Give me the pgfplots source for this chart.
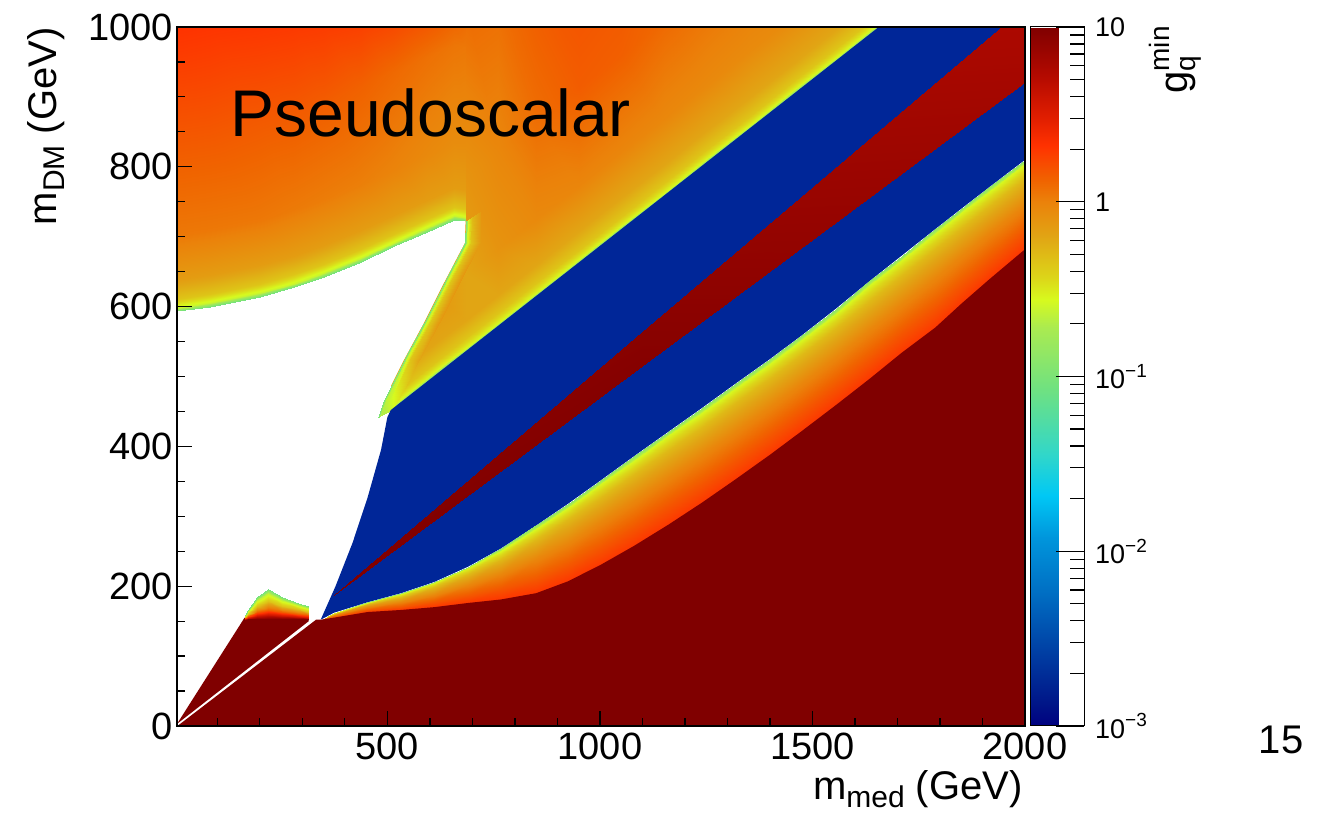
\documentclass[border=0pt]{standalone}
\usepackage{fontspec}
\setmainfont{Liberation Sans}
\usepackage{pgfplots}
\pgfplotsset{compat=1.18}

\definecolor{rootdark}{RGB}{128,0,0}
\definecolor{rootblue}{RGB}{0,38,152}

\newcommand{\ticksize}{\fontsize{19}{22}\selectfont}
\newcommand{\labelsize}{\fontsize{20}{24}\selectfont}
\newcommand{\sub}[1]{\raisebox{-4pt}{\fontsize{15}{15}\selectfont #1}}
\newcommand{\cbsup}[1]{\raisebox{0.42em}{\fontsize{9.5}{10}\selectfont #1}}

\begin{document}
\begin{tikzpicture}
\begin{axis}[
  at={(0pt,0pt)}, anchor=south west,
  scale only axis, width=424pt, height=349.5pt,
  xmin=5, xmax=2000, ymin=0, ymax=1000,
  axis on top,
  tick pos=left, tick align=inside,
  major tick length=7.5pt, minor tick length=4pt,
  every tick/.style={black, line width=0.6pt},
  axis line style={line width=0.7pt},
  xtick={500,1000,1500,2000}, xticklabels={500,1000,1500,2000},
  minor xtick={100,200,...,1900},
  ytick={0,200,400,600,800,1000}, yticklabels={0,200,400,600,800,1000},
  minor ytick={50,100,...,950},
  ticklabel style={font=\ticksize},
  yticklabel style={xshift=1.5pt},
  colormap={rootpal}{
    rgb255(0pt)=(0,0,128);
    rgb255(12pt)=(0,20,135);
    rgb255(44pt)=(0,65,165);
    rgb255(76pt)=(0,110,195);
    rgb255(108pt)=(0,150,220);
    rgb255(132pt)=(0,200,245);
    rgb255(156pt)=(50,215,200);
    rgb255(192pt)=(110,225,130);
    rgb255(228pt)=(170,235,80);
    rgb255(244pt)=(215,250,30);
    rgb255(256pt)=(220,215,25);
    rgb255(280pt)=(225,165,20);
    rgb255(300pt)=(235,130,10);
    rgb255(312pt)=(240,100,0);
    rgb255(332pt)=(255,50,0);
    rgb255(348pt)=(225,30,0);
    rgb255(372pt)=(180,10,0);
    rgb255(400pt)=(128,0,0)
  },
  point meta min=-3, point meta max=1,
  colorbar,
  colorbar style={
    at={(parent axis.north east)}, anchor=north west, xshift=-6pt,
    width=27pt,
    ytick={-3,-2,-1,0,1},
    yticklabels={10\cbsup{−3},10\cbsup{−2},10\cbsup{−1},1,10},
    minor ytick={-2.699,-2.523,-2.398,-2.301,-2.222,-2.155,-2.097,-2.046,
                 -1.699,-1.523,-1.398,-1.301,-1.222,-1.155,-1.097,-1.046,
                 -0.699,-0.523,-0.398,-0.301,-0.222,-0.155,-0.097,-0.046,
                 0.301,0.477,0.602,0.699,0.778,0.845,0.903,0.954},
    ytick pos=right, yticklabel pos=right,
    tick align=inside,
    major tick length=14pt, minor tick length=7pt,
    every tick/.style={black, line width=0.6pt},
    axis line style={line width=0.5pt},
    yticklabel style={font=\fontsize{13.5}{16}\selectfont, anchor=west, xshift=2pt},
  },
]

% field above the upper yellow line (log10 of the coupling)
\addplot[surf, shader=interp, mesh/cols=14, point meta=explicit]
  table[x=x, y=y, meta=c] {
x y c
508 452 -0.95
560 476.8 -0.95
620 505.4 -0.95
685 536.4 -0.95
760 572.2 -0.95
850 615.1 -0.95
950 662.8 -0.95
1050 710.5 -0.95
1150 758.2 -0.95
1250 805.9 -0.95
1350 853.6 -0.95
1450 901.3 -0.95
1550 949 -0.95
1656 1000 -0.95
508 457 -0.55
560 481.8 -0.55
620 510.4 -0.55
685 541.4 -0.55
760 577.2 -0.55
850 620.1 -0.55
950 667.8 -0.55
1050 715.5 -0.55
1150 763.2 -0.55
1250 810.9 -0.55
1350 858.6 -0.55
1450 906.3 -0.55
1550 954 -0.55
1656 1005 -0.55
508 470 -0.35
560 494.8 -0.35
620 523.4 -0.35
685 554.4 -0.35
760 590.2 -0.35
850 633.1 -0.35
950 680.8 -0.35
1050 728.5 -0.35
1150 776.2 -0.35
1250 823.9 -0.35
1350 871.6 -0.35
1450 919.3 -0.35
1550 967 -0.35
1656 1018 -0.35
508 497 -0.2
560 521.8 -0.2
620 550.4 -0.2
685 581.4 -0.2
760 617.2 -0.2
850 660.1 -0.2
950 707.8 -0.2
1050 755.5 -0.2
1150 803.2 -0.2
1250 850.9 -0.2
1350 898.6 -0.2
1450 946.3 -0.2
1550 994 -0.2
1656 1045 -0.2
508 562 -0.1
560 586.8 -0.1
620 615.4 -0.12
685 646.4 -0.2
760 682.2 -0.1
850 725.1 -0.04
950 772.8 -0.02
1050 820.5 -0.02
1150 868.2 -0.03
1250 915.9 -0.04
1350 963.6 -0.05
1450 1011.3 -0.05
1550 1059 -0.05
1656 1110 -0.05
508 702 -0.08
560 726.8 -0.08
620 755.4 -0.08
685 786.4 -0.1
760 822.2 -0.03
850 865.1 0.08
950 912.8 0.15
1050 960.5 0.14
1150 1008.2 0.1
1250 1055.9 0.08
1350 1103.6 0.06
1450 1151.3 0.05
1550 1199 0.05
1656 1250 0.05
508 952 0.08
560 976.8 0.08
620 1005.4 0.09
685 1036.4 0.1
760 1072.2 0.1
850 1115.1 0.18
950 1162.8 0.22
1050 1210.5 0.22
1150 1258.2 0.2
1250 1305.9 0.18
1350 1353.6 0.16
1450 1401.3 0.15
1550 1449 0.15
1656 1500 0.15
};

% region with no solution (upper left)
\addplot[draw=none, fill=white] coordinates {
  (5,593) (83,600) (201,614) (280,628) (350,643) (437,664) (515,686)
  (594,707) (657,724) (684,722)
  (682,691) (633,634) (586,577) (539,524) (491,466) (477,441)
  (470,420) (5,420)} -- cycle;

% edge along the right side of the empty region
\addplot[surf, shader=interp, mesh/cols=7, point meta=explicit]
  table[x=x, y=y, meta=c] {
x y c
477 441 -1.0
491 466 -1.0
539 524 -1.0
586 577 -1.0
633 634 -1.0
682 691 -1.0
684 722 -1.0
482 442.8 -0.7
496 466 -0.65
544 524 -0.6
591 577 -0.6
638 634 -0.6
687 691 -0.6
689 724 -0.55
492 446.3 -0.7
506 466 -0.6
554 524 -0.35
601 577 -0.35
648 634 -0.35
697 691 -0.35
699 728 -0.3
508 452 -0.6
526 466 -0.5
574 524 -0.2
621 577 -0.13
668 634 -0.12
717 691 -0.15
719 735 -0.15
};

% upper left field above the empty region
\addplot[surf, shader=interp, mesh/cols=10, point meta=explicit]
  table[x=x, y=y, meta=c] {
x y c
5 593 -1.05
83 600 -1.05
201 614 -1.05
280 628 -1.05
350 643 -1.05
437 664 -1.05
515 686 -1.05
594 707 -1.05
657 724 -1.05
684 722 -1.05
5 598 -0.62
83 605 -0.62
201 619 -0.62
280 633 -0.62
350 648 -0.62
437 669 -0.62
515 691 -0.62
594 712 -0.62
657 729 -0.62
684 727 -0.62
5 611 -0.35
83 618 -0.35
201 632 -0.35
280 646 -0.35
350 661 -0.35
437 682 -0.35
515 704 -0.35
594 725 -0.35
657 742 -0.35
684 740 -0.35
5 638 -0.15
83 645 -0.15
201 659 -0.15
280 673 -0.15
350 688 -0.15
437 709 -0.15
515 731 -0.15
594 752 -0.15
657 769 -0.15
684 767 -0.15
5 703 0.04
83 710 0.04
201 724 0.04
280 738 0.03
350 753 0.02
437 774 0.01
515 796 -0.01
594 817 -0.04
657 834 -0.06
684 832 -0.06
5 843 0.17
83 850 0.17
201 864 0.16
280 878 0.16
350 893 0.15
437 914 0.13
515 936 0.1
594 957 0.07
657 974 0.05
684 972 0.04
5 1000 0.32
83 1000 0.31
201 1000 0.3
280 1000 0.29
350 1000 0.28
437 1000 0.26
515 1000 0.22
594 1000 0.16
657 1000 0.1
684 1000 0.08
};

% blue band
\addplot[draw=none, fill=rootblue] coordinates {
  (508,452) (1656,1000) (2000,1000) (2000,810) (1916,771) (1850,740)
  (1789,711) (1710,673) (1633,636) (1555,597) (1475,559) (1400,525)
  (1317,489) (1240,455) (1161,421) (1080,386) (1003,352) (925,318)
  (850,287) (767,254) (690,228) (610,206) (532,190) (453,177)
  (374,162) (343,152) (378,200) (418,262) (453,326) (485,395)
  (500,442)} -- cycle;

% narrow resonance band
\addplot[surf, shader=interp, mesh/cols=3, point meta=explicit]
  table[x=x, y=y, meta=c] {
x y c
374 187 1.0
1100 515.2 0.97
2000 922 0.8
374 187 1.0
1100 563 0.95
2000 1029 0.75
};

% lower gradient band
\addplot[surf, shader=interp, mesh/cols=23, point meta=explicit]
  table[x=x, y=y, meta=c] {
x y c
343 152 -0.9
374 162 -0.9
453 177 -0.9
532 190 -0.9
610 206 -0.9
690 228 -0.9
767 254 -0.9
850 287 -0.9
925 318 -0.9
1003 352 -0.9
1080 386 -0.9
1161 421 -0.9
1240 455 -0.9
1317 489 -0.9
1400 525 -0.9
1475 559 -0.9
1555 597 -0.9
1633 636 -0.9
1710 673 -0.9
1789 711 -0.9
1850 740 -0.9
1916 771 -0.9
2000 810 -0.9
343 152 -0.55
374 161.65 -0.55
453 176.3 -0.55
532 188.8 -0.55
610 204.2 -0.55
690 225.4 -0.55
767 250.35 -0.55
850 282.15 -0.55
925 312.45 -0.55
1003 345.95 -0.55
1080 379.6 -0.55
1161 414.35 -0.55
1240 448.2 -0.55
1317 482.15 -0.55
1400 518.15 -0.55
1475 552.15 -0.55
1555 590.1 -0.55
1633 629 -0.55
1710 666.05 -0.55
1789 703.95 -0.55
1850 733.2 -0.55
1916 764.4 -0.55
2000 803.6 -0.55
343 152 -0.3
374 160.6 -0.3
453 174.2 -0.3
532 185.2 -0.3
610 198.8 -0.3
690 217.6 -0.3
767 239.4 -0.3
850 267.6 -0.3
925 295.8 -0.3
1003 327.8 -0.3
1080 360.3 -0.3
1161 394.4 -0.3
1240 427.9 -0.3
1317 461.6 -0.3
1400 497.6 -0.3
1475 531.6 -0.3
1555 569.4 -0.3
1633 608 -0.3
1710 645.2 -0.3
1789 682.8 -0.3
1850 712.8 -0.3
1916 744.6 -0.3
2000 784.4 -0.3
343 152 -0.02
374 158.5 -0.02
453 170 -0.02
532 178 -0.02
610 188 -0.02
690 202 -0.02
767 217.5 -0.02
850 238.5 -0.02
925 262.5 -0.02
1003 291.5 -0.02
1080 321.8 -0.02
1161 354.5 -0.02
1240 387.25 -0.02
1317 420.5 -0.02
1400 456.5 -0.02
1475 490.5 -0.02
1555 528 -0.02
1633 566 -0.02
1710 603.5 -0.02
1789 640.5 -0.02
1850 672 -0.02
1916 705 -0.02
2000 746 -0.02
343 152 0.18
374 156.4 0.18
453 165.8 0.18
532 170.8 0.18
610 177.2 0.18
690 186.4 0.18
767 195.6 0.18
850 209.4 0.18
925 229.2 0.18
1003 255.2 0.18
1080 283.3 0.18
1161 314.6 0.18
1240 346.6 0.18
1317 379.4 0.18
1400 415.4 0.18
1475 449.4 0.18
1555 486.6 0.18
1633 524 0.18
1710 561.8 0.18
1789 598.2 0.18
1850 631.2 0.18
1916 665.4 0.18
2000 707.6 0.18
343 152 0.3
374 155 0.3
453 163 0.3
532 166 0.3
610 170 0.3
690 176 0.3
767 181 0.3
850 190 0.3
925 207 0.3
1003 231 0.3
1080 257.6 0.3
1161 288 0.3
1240 319.5 0.3
1317 352 0.3
1400 388 0.3
1475 422 0.3
1555 459 0.3
1633 496 0.3
1710 534 0.3
1789 570 0.3
1850 604 0.3
1916 639 0.3
2000 682 0.3
};

% saturated region (lower right)
\addplot[draw=none, fill=rootdark] coordinates {
  (6,0) (2000,0) (2000,682) (1916,639) (1850,604) (1789,570) (1710,534)
  (1633,496) (1555,459) (1475,422) (1400,388) (1317,352) (1240,319.5)
  (1161,288) (1080,257.6) (1003,231) (925,207) (850,190) (767,181)
  (690,176) (610,170) (532,166) (453,163) (374,155) (343,152)
  (332,152)} -- cycle;

% small wedge at low masses
\addplot[draw=none, fill=rootdark] coordinates {
  (5,3) (164,155) (314,155) (315,150)} -- cycle;

\addplot[surf, shader=interp, mesh/cols=7, point meta=explicit]
  table[x=x, y=y, meta=c] {
x y c
166 153 1.0
173 153 1.0
193 153 1.0
218 153 1.0
252 153 1.0
290 153 1.0
314 153 1.0
166 153.7 0.6
173 154.6 0.6
193 156.8 0.6
218 158.2 0.6
252 156.8 0.6
290 155.8 0.6
314 155.2 0.6
166 154.8 0.15
173 156.9 0.15
193 162.6 0.15
218 165.9 0.15
252 162.6 0.15
290 159.9 0.15
314 158.4 0.15
166 156.6 -0.35
173 160.8 -0.35
193 172.2 -0.35
218 178.8 -0.35
252 172.2 -0.35
290 166.8 -0.35
314 163.8 -0.35
166 158.1 -0.65
173 164.05 -0.65
193 180.2 -0.65
218 189.6 -0.65
252 180.2 -0.65
290 172.6 -0.65
314 168.3 -0.65
166 159 -1.05
173 166 -1.05
193 185 -1.05
218 196 -1.05
252 185 -1.05
290 176 -1.05
314 171 -1.05
};
\end{axis}

\node[anchor=base west, inner sep=0pt, font=\fontsize{33}{38}\selectfont] at (26.5pt,294.5pt) {Pseudoscalar};
\node[rotate=90, anchor=base east, inner sep=0pt, font=\labelsize] at (-60pt,349.5pt) {m\sub{DM} (GeV)};
\node[anchor=base east, inner sep=0pt, font=\labelsize] at (423pt,-37pt) {m\sub{med} (GeV)};
\node[rotate=90, anchor=base east, inner sep=0pt, font=\labelsize] at (505pt,350pt)
  {g\rlap{\raisebox{-4pt}{\fontsize{14}{14}\selectfont q}}\raisebox{9pt}{\fontsize{14}{14}\selectfont min}};
\node[font=\labelsize] at (552pt,-7pt) {15};

\pgfresetboundingbox
\path (-88.5pt,-43.5pt) rectangle (581pt,363pt);
\end{tikzpicture}
\end{document}
